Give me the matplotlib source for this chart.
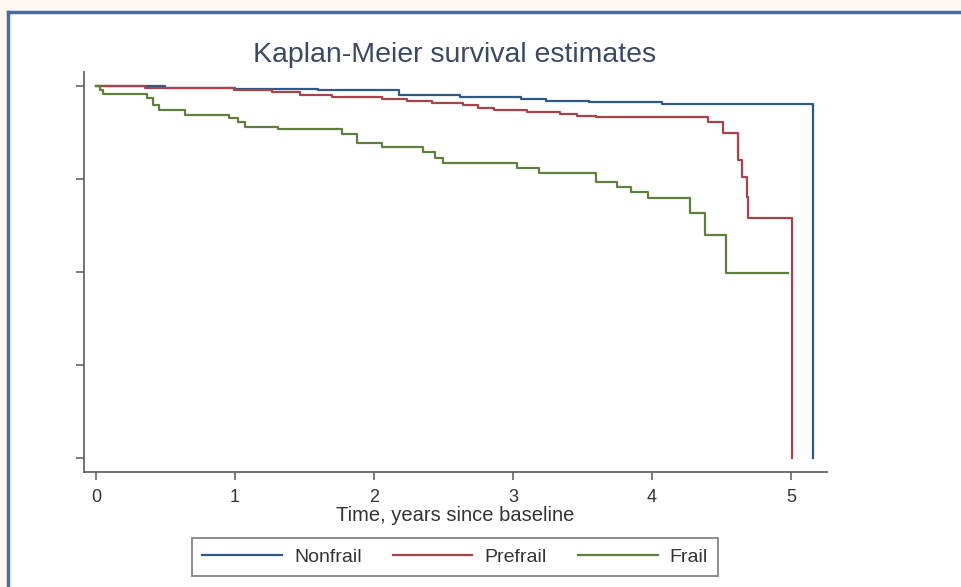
import matplotlib.pyplot as plt
from matplotlib.lines import Line2D
from matplotlib.patches import Rectangle

# step times (years) and survival after each step
nonfrail_t = [0, 0.50, 1.00, 1.60, 2.18, 2.62, 3.06, 3.24, 3.55, 4.07, 5.16, 5.16]
nonfrail_s = [1.0, 0.995, 0.992, 0.989, 0.976, 0.970, 0.965, 0.960, 0.957, 0.952, 0.952, 0.0]

prefrail_t = [0, 0.35, 0.99, 1.27, 1.47, 1.70, 2.06, 2.24, 2.42, 2.64, 2.75, 2.86,
              3.10, 3.34, 3.46, 3.60, 4.40, 4.51, 4.62, 4.65, 4.68, 4.69, 5.01, 5.01]
prefrail_s = [1.0, 0.995, 0.989, 0.984, 0.976, 0.970, 0.966, 0.960, 0.954, 0.949, 0.942, 0.935,
              0.930, 0.925, 0.920, 0.917, 0.902, 0.874, 0.801, 0.755, 0.702, 0.645, 0.645, 0.0]

frail_t = [0, 0.03, 0.05, 0.37, 0.41, 0.45, 0.64, 0.96, 1.02, 1.07, 1.31, 1.77, 1.88,
           2.06, 2.35, 2.44, 2.50, 3.03, 3.19, 3.60, 3.75, 3.85, 3.97, 4.27, 4.38, 4.53, 4.98]
frail_s = [1.0, 0.989, 0.978, 0.968, 0.949, 0.935, 0.922, 0.914, 0.903, 0.890, 0.884, 0.871, 0.847,
           0.836, 0.823, 0.806, 0.793, 0.780, 0.766, 0.742, 0.728, 0.715, 0.699, 0.659, 0.599, 0.497, 0.497]

labels = ["Nonfrail", "Prefrail", "Frail"]
colors = ["#2c5a82", "#a8434c", "#5f7f3c"]

plt.rcParams['font.family'] = ['Liberation Sans', 'DejaVu Sans']
axis_gray = "#666666"

fig = plt.figure(figsize=(9.61, 5.87), dpi=100)
fig.patch.set_facecolor("#fdf7f3")

# white panel with the blue frame (top and left edges visible)
fig.patches.append(Rectangle((8 / 961, 0), 1.0, 1 - 12 / 587, transform=fig.transFigure,
                             facecolor="white", edgecolor="none", zorder=-5))
fig.add_artist(Line2D([8 / 961, 8 / 961], [0, 1 - 12 / 587], transform=fig.transFigure,
                      color="#4a6c9e", lw=2.5, zorder=-4))
fig.add_artist(Line2D([8 / 961, 1], [1 - 12 / 587, 1 - 12 / 587], transform=fig.transFigure,
                      color="#4a6c9e", lw=2.5, zorder=-4))

ax = fig.add_axes([84 / 961, 1 - 472 / 587, (827 - 84) / 961, (472 - 72) / 587])
ax.set_facecolor("none")

ax.step(nonfrail_t, nonfrail_s, where="post", color=colors[0], lw=1.6)
ax.step(prefrail_t, prefrail_s, where="post", color=colors[1], lw=1.6)
ax.step(frail_t, frail_s, where="post", color=colors[2], lw=1.6)

ax.set_xlim(-0.086, 5.259)
ax.set_ylim(-0.0376, 1.0376)
ax.set_xticks([0, 1, 2, 3, 4, 5])
ax.set_yticks([0, 0.25, 0.5, 0.75, 1.0])
ax.set_yticklabels([])

for side in ["top", "right"]:
    ax.spines[side].set_visible(False)
for side in ["left", "bottom"]:
    ax.spines[side].set_color(axis_gray)
    ax.spines[side].set_linewidth(1.3)
ax.tick_params(axis="both", colors=axis_gray, length=6, width=1.2, labelsize=13,
               labelcolor="#333333", pad=6)

ax.set_xlabel("Time, years since baseline", fontsize=14.5, color="#333333", labelpad=0.5)

fig.text(455 / 961, 1 - 55 / 587, "Kaplan-Meier survival estimates", ha="center", va="center",
         fontsize=20.5, color="#3b4a62")

handles = [Line2D([], [], color=c, lw=1.6) for c in colors]
leg = fig.legend(handles, labels, ncol=3, loc="center", bbox_to_anchor=(455 / 961, 1 - 557 / 587),
                 fontsize=14, frameon=True, fancybox=False,
                 handlelength=4.1, columnspacing=1.6, borderpad=0.5, handletextpad=0.62)
leg.get_frame().set_edgecolor(axis_gray)
leg.get_frame().set_linewidth(1.3)
for t in leg.get_texts():
    t.set_color("#333333")

fig.savefig("out.png", dpi=100)
